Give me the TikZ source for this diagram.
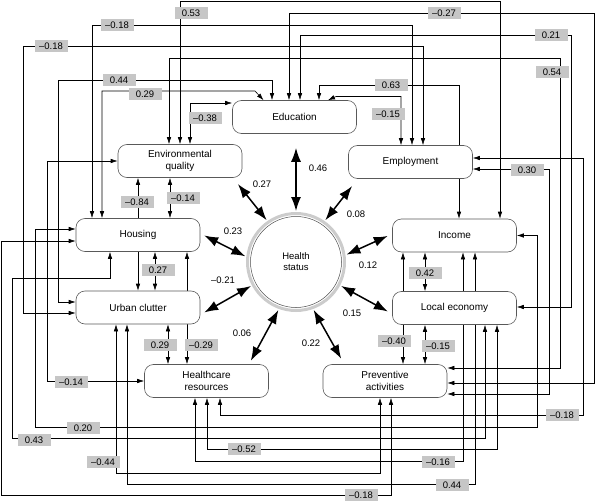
\documentclass[tikz,border=0pt]{standalone}
\usepackage{fontspec}
\setmainfont{Liberation Sans}
\usetikzlibrary{arrows.meta,backgrounds}

\begin{document}
\begin{tikzpicture}[x=1pt,y=-1pt,
  >={Latex[length=7pt,width=4.5pt]},
  box/.style={draw=black!65, line width=0.6pt, rounded corners=9pt, fill=white, minimum width=124pt, minimum height=33pt, align=center, inner sep=1pt, font=\fontsize{10}{11.5}\selectfont},
  coef/.style={fill=gray!45, minimum width=33pt, minimum height=12.5pt, inner sep=0.5pt, font=\fontsize{9.5}{10}\selectfont},
  num/.style={inner sep=0.5pt, font=\fontsize{9.5}{10}\selectfont},
  lnk/.style={line width=0.6pt, ->},
  dlnk/.style={line width=0.6pt, <->},
  big/.style={line width=1.5pt, {Latex[length=14pt,width=10pt]}-{Latex[length=14pt,width=10pt]}, shorten <=1pt, shorten >=1pt}]
\useasboundingbox (0,0) rectangle (595,503);

\node[box] (edu) at (294.5,117) {Education};
\node[box] (env) at (180,161) {Environmental\\quality};
\node[box] (emp) at (410.5,162) {Employment};
\node[box] (hou) at (138,235) {Housing};
\node[box] (inc) at (454.5,235.5) {Income};
\node[box] (urb) at (138,307.5) {Urban clutter};
\node[box] (eco) at (454.5,308) {Local economy};
\node[box] (hcr) at (206.5,381) {Healthcare\\resources};
\node[box] (prv) at (385,381) {Preventive\\activities};
\node[circle, draw=gray!40, line width=3pt, minimum size=97pt, inner sep=0pt, align=center, font=\fontsize{9.5}{11}\selectfont] (hs) at (296,262) {Health\\status};
\draw[black!70, line width=0.5pt] (hs.center) circle[radius=45.5pt];

\begin{pgfonlayer}{background}
\fill[white] (0,0) rectangle (595,503);
\draw[dlnk] (env.north) |- (500,1.5) -- ([xshift=45.5pt]inc.north);
\draw[dlnk] ([xshift=-46pt]hou.north) |- (412,25) -- ([xshift=1.5pt]emp.north);
\draw[dlnk] ([yshift=-5.5pt]urb.west) -| (23,46) -| ([xshift=12.5pt]emp.north);
\draw[dlnk] ([yshift=5.5pt]urb.west) -| (58,80) -| ([xshift=-22.5pt]edu.north);
\draw[dlnk] ([xshift=-36pt]hou.north) |- (255,91) -- ([xshift=-31pt]edu.north);
\draw[dlnk] ([xshift=10pt]env.north) |- ([yshift=14pt]edu.west);
\draw[dlnk] ([xshift=-5.5pt]edu.north) |- (594,13) |- ([yshift=-2pt]prv.east);
\draw[dlnk] ([xshift=5.5pt]edu.north) |- (571,35) |- ([yshift=1pt]eco.east);
\draw[dlnk] ([xshift=-11pt]env.north) |- (560,58) |- ([yshift=13pt]prv.east);
\draw[lnk] ([xshift=48.5pt]emp.north) |- (319,85) -- ([xshift=24.5pt]edu.north);
\draw[dlnk] ([xshift=-9.5pt]emp.north) |- (336,96.5) -- ([xshift=33.5pt]edu.north);
\draw[lnk] ([xshift=48.5pt]emp.south) -- ([xshift=4.5pt]inc.north);
\draw[dlnk] ([yshift=4pt]emp.east) -| (583,415) -| ([xshift=13.5pt]hcr.south);
\draw[dlnk] ([yshift=-7pt]emp.east) -| (549,394) -- ([yshift=-13pt]prv.east);
\draw[dlnk] (inc.east) -| (537,427) -| (35,229) -- ([yshift=6pt]hou.west);
\draw[dlnk] ([xshift=-28pt]hou.south) |- (12,278) |- (485,438) -- ([xshift=30.5pt]eco.south);
\draw[dlnk] ([yshift=-6pt]hou.west) -| (1.5,495) -| ([xshift=6pt]prv.south);
\draw[dlnk] (env.west) -| (47,381) -- (hcr.west);
\draw[dlnk] ([xshift=0.5pt]hcr.south) |- (497,449) -- ([xshift=42.5pt]eco.south);
\draw[dlnk] ([xshift=-11.5pt]hcr.south) |- (463,461) -- ([xshift=8.5pt]inc.south);
\draw[dlnk] ([xshift=-22pt]urb.south) |- (380,473) -- ([xshift=-5pt]prv.south);
\draw[dlnk] ([xshift=-11pt]urb.south) |- (475,484) -- ([xshift=20.5pt]inc.south);
\draw[lnk] (hou.north) -- ([xshift=-42pt]env.south);
\draw[dlnk] ([xshift=32pt]hou.north) -- ([xshift=-10pt]env.south);
\draw[lnk] (hou.south) -- (urb.north);
\draw[dlnk] ([xshift=17pt]hou.south) -- ([xshift=17pt]urb.north);
\draw[dlnk] ([xshift=49pt]hou.south) -- ([xshift=-19.5pt]hcr.north);
\draw[dlnk] ([xshift=30pt]urb.south) -- ([xshift=-38.5pt]hcr.north);
\draw[dlnk] ([xshift=-51.5pt]inc.south) -- ([xshift=18pt]prv.north);
\draw[dlnk] ([xshift=-29.5pt]inc.south) -- ([xshift=-29.5pt]eco.north);
\draw[dlnk] ([xshift=-29.5pt]eco.south) -- ([xshift=40pt]prv.north);
\end{pgfonlayer}

\draw[big, shorten >=14pt] (hs.north) -- (hs.north |- edu.south);
\draw[big] (hs.125) -- ([xshift=-5pt,yshift=-5.5pt]env.south east);
\draw[big] (hs.55) -- ([xshift=4.5pt,yshift=-6.5pt]emp.south west);
\draw[big] (hs.174) -- ([xshift=3pt]hou.east);
\draw[big] (hs.8) -- ([xshift=-3.5pt]inc.west);
\draw[big] (hs.208) -- ([xshift=3pt,yshift=-5.5pt]urb.east);
\draw[big] (hs.332) -- ([xshift=-3.5pt,yshift=-4pt]eco.west);
\draw[big] (hs.250) -- ([xshift=-18.5pt,yshift=2.5pt]hcr.north east);
\draw[big] (hs.290) -- ([xshift=19pt,yshift=4.5pt]prv.north west);

\node[coef] (c1) at (191,13) {0.53};
\node[coef] (c2) at (117,25) {--0.18};
\node[coef] (c3) at (51,46) {--0.18};
\node[coef] (c4) at (119,80) {0.44};
\node[coef] (c5) at (145,94) {0.29};
\node[coef] (c6) at (205,118) {--0.38};
\node[coef] (c7) at (444,13) {--0.27};
\node[coef] (c8) at (551,35) {0.21};
\node[coef] (c9) at (552,72) {0.54};
\node[coef] (c10) at (391,85) {0.63};
\node[coef] (c11) at (388,114) {--0.15};
\node[coef] (c12) at (527,170) {0.30};
\node[coef] (c13) at (137,202) {--0.84};
\node[coef] (c14) at (183,198) {--0.14};
\node[coef] (c15) at (158,270) {0.27};
\node[coef] (c16) at (425,273) {0.42};
\node[coef] (c17) at (394,341) {--0.40};
\node[coef] (c18) at (438,346) {--0.15};
\node[coef] (c19) at (160,345) {0.29};
\node[coef] (c20) at (201,345) {--0.29};
\node[coef] (c21) at (71,382) {--0.14};
\node[coef] (c22) at (83,428) {0.20};
\node[coef] (c23) at (34,440) {0.43};
\node[coef] (c24) at (244,449) {--0.52};
\node[coef] (c25) at (103,462) {--0.44};
\node[coef] (c26) at (562,415) {--0.18};
\node[coef] (c27) at (438,462) {--0.16};
\node[coef] (c28) at (452,485) {0.44};
\node[coef] (c29) at (361,495) {--0.18};

\node[num] (r1) at (318,168) {0.46};
\node[num] (r2) at (262,184) {0.27};
\node[num] (r3) at (356,214) {0.08};
\node[num] (r4) at (233,231) {0.23};
\node[num] (r5) at (368,265) {0.12};
\node[num] (r6) at (223,280) {--0.21};
\node[num] (r7) at (352,313) {0.15};
\node[num] (r8) at (242,333) {0.06};
\node[num] (r9) at (311,343) {0.22};
\end{tikzpicture}
\end{document}
